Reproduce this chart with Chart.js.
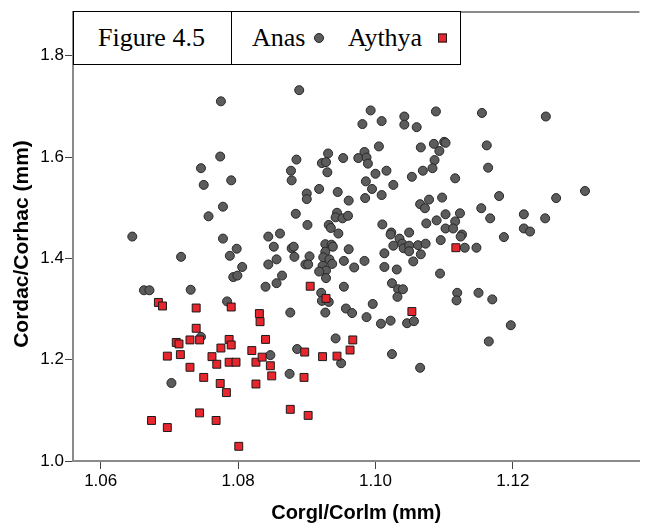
<!DOCTYPE html>
<html>
<head>
<meta charset="utf-8">
<script src="https://cdn.jsdelivr.net/npm/chart.js@4"></script>
<style>
html,body{margin:0;padding:0;background:#fff;}
#wrap{position:relative;width:646px;height:527px;overflow:hidden;}
#c{position:absolute;left:0;top:0;}
#legend{position:absolute;left:73px;top:11px;width:388px;height:54px;border:1px solid #000;box-sizing:border-box;background:#fff;font-family:"Liberation Serif","Times New Roman",serif;font-size:26px;color:#000;}
#legend span{position:absolute;top:50%;transform:translateY(-50%);white-space:nowrap;line-height:1;}
#legend .div{position:absolute;left:157px;top:0;bottom:0;width:1px;background:#000;}
.dot{display:inline-block;width:8px;height:8px;border-radius:50%;background:#5c5c5c;border:1px solid #262626;}
.sq{display:inline-block;width:7px;height:7px;background:#e8262e;border:1px solid #1a1a1a;}
</style>
</head>
<body>
<div id="wrap">
<canvas id="c" width="646" height="527"></canvas>
<div id="legend">
  <span style="left:24px;">Figure 4.5</span>
  <div class="div"></div>
  <span style="left:178px;">Anas</span>
  <span style="left:240px;" class="dot"></span>
  <span style="left:274px;">Aythya</span>
  <span style="left:364px;" class="sq"></span>
</div>
</div>
<script>
// ---- data ----
const anasX = [1.0775,1.0774,1.0746,1.0790,1.0750,1.0778,1.0757,1.0646,1.0778,1.0798,1.0717,1.0788,1.0806,1.0793,1.0799,1.0663,1.0671,1.0731,1.0784,1.0746,1.0703,
1.0889,1.0993,1.0981,1.1009,1.1005,1.0931,1.0885,1.0922,1.0928,1.0953,1.0975,1.0984,1.0987,1.0989,1.0877,1.0930,1.1000,1.1016,1.0878,1.0986,1.0995,1.0918,1.0945,1.0900,1.0900,1.0961,1.0985,1.1009,1.0884,1.0944,1.0942,1.0952,1.0960,1.0901,1.0932,1.0935,1.0946,1.1010,1.0844,1.0861,
1.0852,1.0878,1.0881,1.0882,1.0856,1.0844,1.0904,1.0898,1.0902,1.0927,1.0936,1.0938,1.0927,1.0924,1.0933,1.0937,1.0923,1.0928,1.0918,1.0961,1.0954,1.0969,1.0984,1.1013,1.1013,1.0864,1.0856,1.0840,1.0928,1.0954,1.0921,1.0922,1.0932,1.0957,1.0966,1.0927,1.0876,1.0987,1.0996,1.1008,1.0942,1.0886,1.0847,1.0950,1.0875,
1.1088,1.1155,1.1042,1.1042,1.1060,1.1066,1.1085,1.1100,1.1102,1.1093,1.1162,1.1086,1.1083,1.1069,1.1053,1.1026,1.1116,1.1164,1.1078,1.1065,1.1072,1.1097,1.1180,1.1154,1.1167,1.1102,1.1123,1.1089,1.1116,1.1074,1.1102,1.1113,1.1126,1.1124,1.1023,1.1022,1.1049,1.1035,1.1095,1.1187,
1.1026,1.1039,1.1041,1.1049,1.1049,1.1062,1.1073,1.1066,1.1055,1.1130,1.1147,1.1031,1.1094,1.1024,1.1033,1.1040,1.1032,1.1119,1.1118,1.1150,1.1170,1.1022,1.1046,1.1056,1.1197,1.1165,1.1024,1.1065,
1.1248,1.1263,1.1305,1.1216,1.1247,1.1216,1.1225];
const anasY = [1.710,1.601,1.578,1.554,1.545,1.502,1.483,1.443,1.439,1.419,1.403,1.405,1.383,1.363,1.366,1.337,1.337,1.338,1.315,1.245,1.154,
1.732,1.692,1.665,1.671,1.621,1.607,1.595,1.588,1.590,1.598,1.598,1.610,1.599,1.587,1.573,1.570,1.567,1.573,1.554,1.552,1.537,1.537,1.531,1.528,1.517,1.514,1.519,1.525,1.488,1.490,1.481,1.479,1.484,1.466,1.466,1.460,1.449,1.467,1.443,1.449,
1.423,1.420,1.423,1.403,1.398,1.388,1.404,1.388,1.388,1.428,1.427,1.423,1.413,1.402,1.398,1.389,1.385,1.376,1.374,1.418,1.395,1.382,1.395,1.410,1.383,1.366,1.351,1.344,1.361,1.344,1.332,1.316,1.314,1.301,1.292,1.293,1.293,1.284,1.310,1.271,1.242,1.221,1.209,1.193,1.172,
1.690,1.687,1.680,1.664,1.659,1.619,1.626,1.630,1.628,1.612,1.623,1.594,1.578,1.573,1.561,1.545,1.558,1.579,1.516,1.507,1.499,1.520,1.523,1.499,1.479,1.487,1.489,1.475,1.473,1.469,1.459,1.459,1.447,1.443,1.451,1.447,1.451,1.439,1.436,1.442,
1.425,1.429,1.420,1.425,1.414,1.426,1.429,1.408,1.394,1.421,1.421,1.378,1.370,1.351,1.339,1.339,1.324,1.332,1.317,1.332,1.319,1.277,1.272,1.276,1.268,1.236,1.211,1.184,
1.680,1.519,1.533,1.487,1.479,1.459,1.453];
const aythyaX = [1.0684,1.0690,1.0739,1.0790,1.0831,1.0832,1.0739,1.0710,1.0714,1.0730,1.0744,1.0787,1.0790,1.0775,1.0820,1.0697,1.0716,1.0762,1.0769,1.0787,1.0797,1.0826,1.0730,1.0750,1.0774,1.0826,1.0783,1.0744,1.0674,1.0768,1.0697,1.0801,
1.0905,1.0928,1.0840,1.0967,1.0963,1.0897,1.0835,1.0923,1.0944,1.0847,1.0849,1.0896,1.0876,1.0902,1.1117,1.1053];
const aythyaY = [1.313,1.306,1.302,1.304,1.291,1.275,1.262,1.234,1.231,1.239,1.239,1.240,1.229,1.223,1.218,1.207,1.210,1.206,1.191,1.195,1.195,1.195,1.185,1.165,1.153,1.152,1.135,1.095,1.080,1.080,1.066,1.029,
1.345,1.321,1.240,1.239,1.219,1.215,1.205,1.206,1.207,1.188,1.168,1.165,1.102,1.090,1.421,1.295];
const xTickValues = [1.06,1.08,1.10,1.12];
const xTickLabels = ["1.06","1.08","1.10","1.12"];
const yTickValues = [1.0,1.2,1.4,1.6,1.8];
const yTickLabels = ["1.0","1.2","1.4","1.6","1.8"];
const xTitle = "Corgl/Corlm (mm)";
const yTitle = "Cordac/Corhac (mm)";

const toPts = (xs, ys) => xs.map((x, i) => ({x: x, y: ys[i]}));

const FONT = "'Liberation Sans', Arial, sans-serif";

const frame = {
  id: 'frame',
  beforeDatasetsDraw(chart) {
    const {ctx, chartArea} = chart;
    ctx.save();
    ctx.strokeStyle = '#8a8a8a';
    ctx.lineWidth = 2;
    ctx.beginPath();
    ctx.moveTo(chartArea.left, chartArea.top);
    ctx.lineTo(chartArea.right, chartArea.top);
    ctx.stroke();
    ctx.restore();
  },
  afterDraw(chart) {
    // y-axis title, centred where the reference has it
    const {ctx} = chart;
    ctx.save();
    ctx.translate(22, 244);
    ctx.rotate(-Math.PI / 2);
    ctx.fillStyle = '#000';
    ctx.font = "bold 21px " + FONT;
    ctx.textAlign = 'center';
    ctx.textBaseline = 'middle';
    ctx.fillText(yTitle, 0, 0);
    ctx.restore();
  }
};

const tickFont = {family: FONT, size: 17};
const titleFont = {family: FONT, size: 20, weight: 'bold'};

new Chart(document.getElementById('c'), {
  type: 'scatter',
  data: {
    datasets: [
      {
        label: 'Aythya',
        data: toPts(aythyaX, aythyaY),
        pointStyle: 'rect',
        pointRadius: 5.6,
        pointHoverRadius: 5.6,
        backgroundColor: '#e8262e',
        borderColor: '#1a1a1a',
        borderWidth: 1,
        order: 0
      },
      {
        label: 'Anas',
        data: toPts(anasX, anasY),
        pointStyle: 'circle',
        pointRadius: 4.5,
        pointHoverRadius: 4.5,
        backgroundColor: '#5c5c5c',
        borderColor: '#262626',
        borderWidth: 1,
        order: 1
      }
    ]
  },
  options: {
    responsive: false,
    animation: false,
    devicePixelRatio: 1,
    layout: {padding: {top: 12, right: 0, left: 0, bottom: 0}},
    plugins: {legend: {display: false}, tooltip: {enabled: false}},
    scales: {
      x: {
        type: 'linear',
        min: 1.05597,
        max: 1.13842,
        afterBuildTicks: s => { s.ticks = xTickValues.map(v => ({value: v})); },
        afterFit: s => { s.height = 66; },
        ticks: {
          autoSkip: false, maxRotation: 0, color: '#000', font: tickFont, padding: 2,
          callback: (v, i) => xTickLabels[i]
        },
        grid: {drawOnChartArea: false, drawTicks: true, tickLength: 8, color: '#444', lineWidth: 1},
        border: {display: true, color: '#8a8a8a', width: 2},
        title: {display: true, text: xTitle, color: '#000', font: titleFont, padding: {top: 0, bottom: 2}}
      },
      y: {
        type: 'linear',
        min: 1.0,
        max: 1.8863,
        afterBuildTicks: s => { s.ticks = yTickValues.map(v => ({value: v})); },
        afterFit: s => { s.width = 73; },
        ticks: {
          autoSkip: false, color: '#000', font: tickFont, padding: 1,
          callback: (v, i) => yTickLabels[i]
        },
        grid: {drawOnChartArea: false, drawTicks: true, tickLength: 8, color: '#444', lineWidth: 1},
        border: {display: true, color: '#8a8a8a', width: 2},
        title: {display: false}
      }
    }
  },
  plugins: [frame]
});
</script>
</body>
</html>
